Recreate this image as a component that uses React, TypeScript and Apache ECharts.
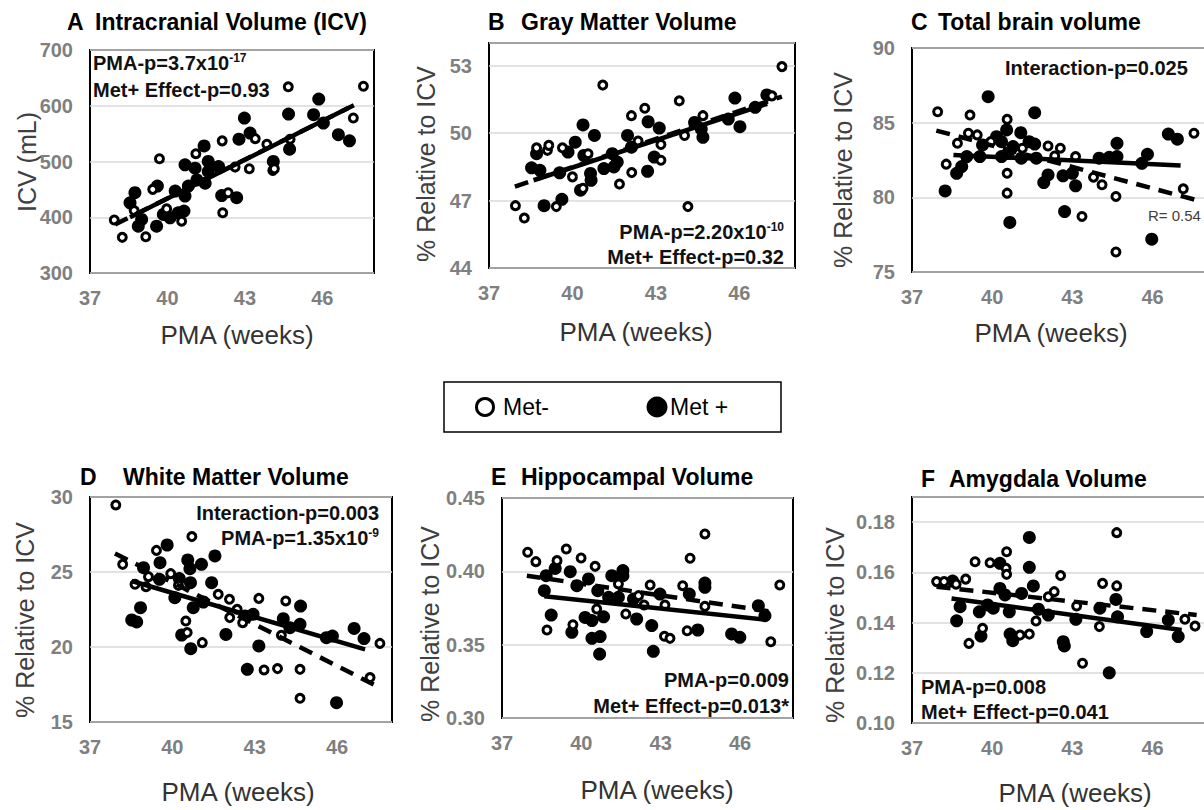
import React, { useEffect, useRef } from "react";
import * as echarts from "echarts";

// ---------- DATA ----------
const xTicks = [37, 40, 43, 46];

// A: Intracranial Volume (mL)
const aMetNeg = [[37.94,395],[38.25,364],[39.16,365],[38.71,412],[39.43,450],[39.69,505],[40.55,393],[39.97,415],[41.10,514],[42.12,537],[42.14,408],[42.35,444],[42.62,490],[43.17,487],[43.40,541],[43.85,531],[44.08,484],[44.14,487],[44.68,634],[44.75,540],[47.20,578],[47.59,635]];
const aMetPos = [[38.74,444],[38.55,426],[38.87,384],[39.00,396],[39.58,384],[39.61,456],[39.84,405],[40.10,399],[40.30,447],[40.42,408],[40.64,411],[40.68,438],[40.68,494],[40.81,456],[41.07,488],[41.14,467],[41.42,528],[41.46,461],[41.58,500],[41.58,482],[41.98,491],[42.10,439],[42.68,435],[42.77,540],[42.98,578],[43.20,551],[44.10,500],[44.69,585],[44.73,522],[45.66,584],[45.86,612],[46.04,569],[46.62,548],[47.05,537]];
const aFitPos = [[38.55,400],[47.0,596]];
const aFitNeg = [[37.97,387],[47.26,602]];

// B: Gray matter (% ICV)
const bMetNeg = [[37.95,46.77],[38.27,46.22],[38.71,49.34],[39.10,49.23],[39.15,49.45],[39.64,49.34],[39.42,46.73],[40.00,48.05],[40.38,47.54],[40.56,49.08],[41.09,52.13],[41.69,47.73],[42.12,50.77],[42.13,48.24],[42.36,49.64],[42.60,51.10],[43.18,48.79],[43.18,49.49],[43.84,51.43],[44.15,46.73],[44.03,49.89],[44.69,50.77],[47.17,51.65],[47.53,52.95]];
const bMetPos = [[38.53,48.45],[38.71,49.08],[38.83,48.34],[38.98,46.77],[39.62,47.05],[39.54,48.23],[39.84,49.15],[40.10,49.59],[40.29,47.46],[40.38,50.36],[40.41,49.00],[40.65,48.20],[40.67,47.90],[40.79,49.89],[41.13,48.42],[41.43,49.08],[41.49,48.49],[41.61,48.71],[41.98,49.89],[42.12,49.37],[42.70,48.30],[42.72,50.50],[42.94,48.93],[43.12,50.22],[44.39,50.47],[44.69,49.81],[44.63,50.18],[45.84,51.55],[46.02,50.28],[45.60,50.62],[46.99,51.69],[46.57,51.14]];
const bFitPos = [[38.6,47.9],[47.0,51.3]];
const bFitNeg = [[37.93,47.62],[47.53,51.62]];

// C: Total brain volume (% ICV)
const cMetNeg = [[37.96,85.73],[38.28,82.22],[38.70,83.62],[39.17,85.51],[39.11,84.29],[39.44,84.18],[39.95,83.73],[40.56,85.22],[40.56,81.61],[40.56,80.28],[41.13,83.29],[42.09,83.44],[42.55,83.29],[42.34,82.77],[43.12,82.73],[43.36,78.72],[43.79,81.35],[44.11,80.84],[44.63,80.06],[44.63,76.34],[47.15,80.57],[47.55,84.29]];
const cMetPos = [[38.24,80.43],[38.67,81.61],[38.86,82.06],[39.05,82.73],[39.64,83.51],[39.54,82.73],[39.85,86.74],[40.16,84.06],[40.35,83.73],[40.35,82.73],[40.54,84.51],[40.60,82.95],[40.66,78.32],[40.78,83.40],[41.07,84.33],[41.09,82.62],[41.38,83.73],[41.59,85.67],[41.59,83.57],[41.65,82.62],[41.93,80.99],[42.09,81.50],[42.71,79.05],[42.65,81.44],[43.00,81.61],[43.12,80.77],[44.00,82.62],[44.38,82.68],[44.67,83.62],[44.67,82.73],[45.60,82.28],[45.81,82.88],[45.97,77.20],[46.59,84.24],[46.93,83.89]];
const cFitPos = [[38.55,82.84],[47.05,82.13]];
const cFitNeg = [[37.91,84.47],[47.61,79.83]];

// D: White matter (% ICV)
const dMetNeg = [[37.94,29.47],[38.19,25.51],[38.64,24.18],[39.13,24.69],[39.04,24.02],[39.42,26.44],[39.94,24.89],[40.22,24.11],[40.49,21.73],[40.54,20.96],[40.71,27.36],[41.09,20.29],[41.67,23.51],[42.08,23.18],[42.09,21.96],[42.36,22.51],[42.56,21.62],[43.15,23.24],[43.34,18.47],[43.83,18.56],[43.97,20.78],[44.13,23.07],[44.65,18.51],[44.65,16.58],[47.20,17.96],[47.56,20.24]];
const dMetPos = [[38.52,21.80],[38.70,21.67],[38.84,22.62],[38.95,25.29],[39.55,25.62],[39.81,26.80],[39.53,24.51],[40.09,23.29],[40.25,24.56],[40.34,20.80],[40.56,25.80],[40.64,25.22],[40.66,24.29],[40.67,19.89],[40.76,22.62],[41.06,25.51],[41.13,23.00],[41.43,24.29],[41.55,26.07],[41.95,20.84],[42.65,22.07],[42.73,18.51],[42.94,22.18],[43.15,20.07],[44.04,21.89],[44.28,21.29],[44.65,21.51],[44.67,22.73],[45.61,20.62],[45.83,20.73],[45.98,16.29],[46.62,21.24],[46.98,20.56]];
const dFitPos = [[38.52,24.4],[47.02,19.84]];
const dFitNeg = [[37.91,26.24],[47.44,17.4]];

// E: Hippocampal volume (% ICV)
const eMetNeg = [[37.97,0.413],[38.28,0.4066],[39.08,0.4073],[39.43,0.4152],[39.99,0.4091],[40.52,0.4034],[38.70,0.360],[39.68,0.3636],[40.58,0.3743],[41.40,0.3914],[41.68,0.3709],[42.16,0.3834],[42.37,0.377],[42.60,0.3907],[43.16,0.377],[43.14,0.3557],[43.35,0.3543],[43.83,0.3902],[44.00,0.3595],[44.11,0.4089],[44.67,0.4255],[44.67,0.3761],[47.16,0.352],[47.50,0.3907]];
const eMetPos = [[38.60,0.3868],[38.86,0.3702],[38.67,0.397],[39.01,0.402],[39.58,0.3998],[39.64,0.3584],[39.83,0.3902],[40.14,0.3686],[40.27,0.3948],[40.40,0.3664],[40.40,0.3543],[40.71,0.3555],[40.69,0.3436],[40.62,0.3868],[40.84,0.369],[41.03,0.3823],[41.15,0.397],[41.57,0.4005],[41.57,0.397],[41.40,0.3823],[41.97,0.3811],[42.09,0.3675],[42.66,0.363],[42.72,0.3455],[42.97,0.3845],[44.08,0.3845],[44.40,0.360],[44.67,0.392],[44.67,0.3891],[45.68,0.3573],[45.99,0.355],[46.69,0.3766],[46.94,0.3698]];
const eFitPos = [[38.6,0.383],[47.0,0.367]];
const eFitNeg = [[37.94,0.397],[47.19,0.3725]];

// F: Amygdala volume (% ICV)
const fMetNeg = [[37.92,0.1563],[38.20,0.1563],[38.65,0.1553],[39.01,0.1573],[39.36,0.1642],[39.13,0.1317],[39.64,0.1377],[39.92,0.1638],[40.54,0.1682],[40.52,0.1616],[40.54,0.1592],[41.04,0.135],[41.39,0.1354],[41.64,0.1406],[42.10,0.1503],[42.32,0.1523],[42.56,0.1587],[43.16,0.1466],[43.38,0.1238],[44.01,0.1384],[44.13,0.1556],[44.66,0.1758],[44.66,0.1546],[47.21,0.1413],[47.59,0.1386]];
const fMetPos = [[38.52,0.1565],[38.80,0.1463],[38.67,0.1407],[39.58,0.1346],[39.52,0.1443],[39.83,0.147],[40.04,0.1457],[40.29,0.1636],[40.29,0.1536],[40.48,0.151],[40.64,0.1443],[40.67,0.1354],[40.77,0.1328],[41.10,0.1516],[41.39,0.162],[41.39,0.1739],[41.54,0.1546],[41.73,0.1453],[42.10,0.143],[42.66,0.1324],[42.70,0.1307],[43.13,0.1413],[44.03,0.1457],[44.38,0.120],[44.63,0.1492],[44.69,0.1423],[45.78,0.1364],[46.59,0.141],[46.96,0.1344]];
const fFitPos = [[38.48,0.1496],[47.09,0.137]];
const fFitNeg = [[37.92,0.1543],[47.65,0.143]];

const yMins = [300, 44, 75, 15, 0.30, 0.10];
const yMaxs = [700, 54, 90, 30, 0.45, 0.19];
const yIntervals = [100, 3, 5, 5, 0.05, 0.02];
const yDecimals = [0, 0, 0, 0, 2, 2];

const metNegSets = [aMetNeg, bMetNeg, cMetNeg, dMetNeg, eMetNeg, fMetNeg];
const metPosSets = [aMetPos, bMetPos, cMetPos, dMetPos, eMetPos, fMetPos];
const fitPosSets = [aFitPos, bFitPos, cFitPos, dFitPos, eFitPos, fFitPos];
const fitNegSets = [aFitNeg, bFitNeg, cFitNeg, dFitNeg, eFitNeg, fFitNeg];

const panelLetters = ["A", "B", "C", "D", "E", "F"];
const panelTitles = ["Intracranial Volume (ICV)", "Gray Matter Volume", "Total brain volume", "White Matter Volume", "Hippocampal Volume", "Amygdala Volume"];
const yNames = ["ICV (mL)", "% Relative to ICV", "% Relative to ICV", "% Relative to ICV", "% Relative to ICV", "% Relative to ICV"];
const xName = "PMA (weeks)";

// ---------- LAYOUT ----------
const grids = [
  { left: 90, top: 50, width: 284, height: 223 },
  { left: 489, top: 43, width: 306, height: 225 },
  { left: 912, top: 48, width: 294, height: 224 },
  { left: 90, top: 497, width: 302, height: 225 },
  { left: 502, top: 498, width: 291, height: 220 },
  { left: 912, top: 497, width: 294, height: 226 },
];
const letterPos = [[67, 22], [488, 22], [911, 22], [80, 477], [491, 477], [921, 479]];
const titlePos = [[95, 22], [521, 22], [938, 22], [123, 477], [521, 477], [949, 479]];
const yNamePos = [[27, 162], [426, 164], [843, 170], [25, 620], [430, 624], [835, 625]];
const xNamePos = [[237, 335], [636, 332], [1051, 333], [238, 792], [657, 790], [1075, 793]];

const FONT = '"Liberation Sans", Arial, sans-serif';

function fmt(min: number, interval: number, dec: number) {
  return (v: number) => {
    const k = (v - min) / interval;
    return Math.abs(k - Math.round(k)) < 1e-6 ? v.toFixed(dec) : "";
  };
}

function annot(text: string, sup: string | null, x: number, y: number, align: string) {
  const t = sup ? `{b|${text}}{s|${sup}}` : `{b|${text}}`;
  return {
    type: "text",
    x,
    y,
    z: 100,
    style: {
      text: t,
      textAlign: align,
      textVerticalAlign: "middle",
      rich: {
        b: { fontFamily: FONT, fontWeight: "bold", fontSize: 20, fill: "#111", lineHeight: 22 },
        s: { fontFamily: FONT, fontWeight: "bold", fontSize: 12, fill: "#111", lineHeight: 12, verticalAlign: "top" },
      },
    },
  };
}

function plainText(text: string, x: number, y: number, font: string, fill: string, align = "left", rotation = 0) {
  return {
    type: "text",
    x,
    y,
    rotation,
    z: 100,
    style: { text, font, fill, textAlign: align, textVerticalAlign: "middle" },
  };
}

export default function App() {
  const ref = useRef<HTMLDivElement>(null);
  useEffect(() => {
    if (!ref.current) return;
    const chart = echarts.init(ref.current, null, { renderer: "svg" });

    const gridOpts = grids.map((g) => ({
      ...g,
      show: true,
      borderColor: "#000",
      borderWidth: 2,
      backgroundColor: "transparent",
      containLabel: false,
      outerBoundsMode: "none",
    }));

    const xAxes = grids.map((_, i) => ({
      gridIndex: i,
      type: "value",
      min: 37,
      max: 48,
      interval: 3,
      axisLine: { show: false },
      axisTick: { show: false },
      splitLine: { show: false },
      axisLabel: {
        color: "#7f7f7f",
        fontWeight: "bold",
        fontSize: 20,
        fontFamily: FONT,
        margin: 15,
        formatter: (v: number) => (xTicks.includes(Math.round(v * 1000) / 1000) ? String(v) : ""),
      },
    }));

    const yAxes = grids.map((_, i) => ({
      gridIndex: i,
      type: "value",
      min: yMins[i],
      max: yMaxs[i],
      interval: yIntervals[i],
      axisLine: { show: false },
      axisTick: { show: false },
      splitLine: { show: true, lineStyle: { color: "#d9d9d9", width: 1.5 } },
      axisLabel: {
        color: "#7f7f7f",
        fontWeight: "bold",
        fontSize: 20,
        fontFamily: FONT,
        margin: 17,
        formatter: fmt(yMins[i], yIntervals[i], yDecimals[i]),
      },
    }));

    const series: any[] = [];
    grids.forEach((_, i) => {
      series.push({
        type: "scatter",
        xAxisIndex: i,
        yAxisIndex: i,
        data: metPosSets[i],
        symbol: "circle",
        symbolSize: 13,
        itemStyle: { color: "#000", opacity: 1 },
        z: 3,
      });
      series.push({
        type: "scatter",
        xAxisIndex: i,
        yAxisIndex: i,
        data: metNegSets[i],
        symbol: "circle",
        symbolSize: 8,
        itemStyle: { color: "#fff", borderColor: "#000", borderWidth: 3, opacity: 1 },
        z: 4,
      });
      series.push({
        type: "line",
        xAxisIndex: i,
        yAxisIndex: i,
        data: fitNegSets[i],
        symbol: "none",
        lineStyle: { color: "#000", width: 4.5, type: [14, 9] },
        z: 5,
      });
      series.push({
        type: "line",
        xAxisIndex: i,
        yAxisIndex: i,
        data: fitPosSets[i],
        symbol: "none",
        lineStyle: { color: "#000", width: 4.5, type: "solid" },
        z: 6,
      });
    });

    const graphics: any[] = [];
    grids.forEach((_, i) => {
      graphics.push(plainText(panelLetters[i], letterPos[i][0], letterPos[i][1], `bold 23px ${FONT}`, "#000"));
      graphics.push(plainText(panelTitles[i], titlePos[i][0], titlePos[i][1], `bold 23px ${FONT}`, "#000"));
      graphics.push(plainText(yNames[i], yNamePos[i][0], yNamePos[i][1], `25px ${FONT}`, "#404040", "center", Math.PI / 2));
      graphics.push(plainText(xName, xNamePos[i][0], xNamePos[i][1], `26px ${FONT}`, "#333", "center"));
    });
    // annotations
    graphics.push(annot("PMA-p=3.7x10", "-17", 93, 63, "left"));
    graphics.push(annot("Met+ Effect-p=0.93", null, 93, 90, "left"));
    graphics.push(annot("PMA-p=2.20x10", "-10", 784, 232, "right"));
    graphics.push(annot("Met+ Effect-p=0.32", null, 784, 257, "right"));
    graphics.push(annot("Interaction-p=0.025", null, 1005, 68, "left"));
    graphics.push(plainText("R= 0.54", 1148, 215, `15px ${FONT}`, "#404040"));
    graphics.push(annot("Interaction-p=0.003", null, 379, 513, "right"));
    graphics.push(annot("PMA-p=1.35x10", "-9", 379, 538, "right"));
    graphics.push(annot("PMA-p=0.009", null, 789, 680, "right"));
    graphics.push(annot("Met+ Effect-p=0.013*", null, 789, 706, "right"));
    graphics.push(annot("PMA-p=0.008", null, 921, 687, "left"));
    graphics.push(annot("Met+ Effect-p=0.041", null, 921, 712, "left"));
    // legend
    graphics.push({ type: "rect", shape: { x: 444, y: 382, width: 337, height: 50 }, style: { fill: "#fff", stroke: "#000", lineWidth: 1.5 }, z: 90 });
    graphics.push({ type: "circle", shape: { cx: 485, cy: 407, r: 8.5 }, style: { fill: "#fff", stroke: "#000", lineWidth: 3 }, z: 100 });
    graphics.push(plainText("Met-", 503, 407, `23px ${FONT}`, "#000"));
    graphics.push({ type: "circle", shape: { cx: 657, cy: 407, r: 10.5 }, style: { fill: "#000" }, z: 100 });
    graphics.push(plainText("Met +", 670, 407, `23px ${FONT}`, "#000"));

    chart.setOption({
      animation: false,
      backgroundColor: "#fff",
      grid: gridOpts,
      xAxis: xAxes,
      yAxis: yAxes,
      series,
      graphic: { elements: graphics },
    });
    return () => chart.dispose();
  }, []);
  return <div ref={ref} style={{ position: "absolute", left: 0, top: 0, width: 1204, height: 810 }} />;
}
